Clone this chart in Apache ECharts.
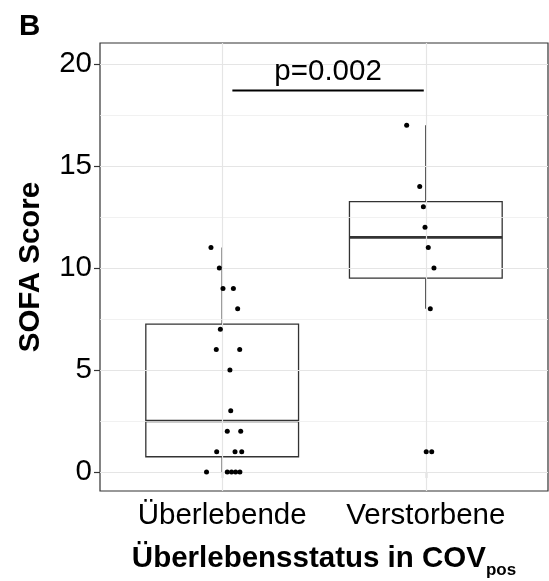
<!DOCTYPE html>
<html>
<head>
<meta charset="utf-8">
<script src="https://cdn.jsdelivr.net/npm/echarts@6/dist/echarts.min.js"></script>
<style>
  html, body { margin: 0; padding: 0; background: #fff; }
  #chart { width: 549px; height: 581px; }
</style>
</head>
<body>
<div id="chart"></div>
<script>
// Groups on the x axis
const categories = ['Überlebende', 'Verstorbene'];

// Individual SOFA scores per group
const survivorsScores = [11, 10, 9, 9, 8, 7, 6, 6, 5, 3, 2, 2, 1, 1, 1, 0, 0, 0, 0, 0];
const deceasedScores  = [17, 14, 13, 12, 11, 10, 8, 1, 1];

// Horizontal jitter of each point (in category units)
const survivorsJitter = [-0.055, -0.014, 0.004, 0.055, 0.076, -0.009, -0.029, 0.086, 0.038, 0.042,
                         0.025, 0.091, -0.027, 0.063, 0.096, -0.077, 0.025, 0.046, 0.066, 0.087];
const deceasedJitter  = [-0.094, -0.030, -0.012, -0.004, 0.012, 0.040, 0.022, 0.002, 0.029];

// Box statistics: [lower whisker, Q1, median, Q3, upper whisker]
const survivorsBox = [0, 0.75, 2.5, 7.25, 11];
const deceasedBox  = [8, 9.5, 11.5, 13.25, 17];

// Axis ticks
const yTicks = [0, 5, 10, 15, 20];
const yMinorTicks = [2.5, 7.5, 12.5, 17.5];
const xTicks = [1, 2];

// Significance bracket between the groups
const sigBarX = [1.05, 1.99];
const sigBarY = 18.7;
const sigLabel = 'p=0.002';

const FONT = '"Liberation Sans", Arial, Helvetica, sans-serif';
const FS = 29.5;
const BOX_WIDTH = 0.75;

const boxData = [
  [1].concat(survivorsBox),
  [2].concat(deceasedBox)
];
const pointData = [];
survivorsScores.forEach((v, i) => pointData.push([1 + survivorsJitter[i], v]));
deceasedScores.forEach((v, i) => pointData.push([2 + deceasedJitter[i], v]));

const chart = echarts.init(document.getElementById('chart'), null, { renderer: 'canvas' });

chart.setOption({
  animation: false,
  backgroundColor: '#ffffff',
  title: {
    text: 'B',
    left: 14,
    top: 7,
    textStyle: { fontFamily: FONT, fontSize: FS, fontWeight: 'bold', color: '#000' }
  },
  grid: {
    left: 100, top: 43, width: 448, height: 448,
    outerBoundsMode: 'none',
    containLabel: false,
    show: true, borderColor: '#333333', borderWidth: 1.2, backgroundColor: '#ffffff'
  },
  xAxis: {
    type: 'value',
    min: 0.4, max: 2.6,
    axisLine: { show: false },
    splitLine: { show: false },
    axisTick: { show: true, customValues: xTicks, length: 6, inside: false,
                lineStyle: { color: '#333333', width: 1.2 } },
    axisLabel: {
      customValues: xTicks,
      formatter: v => categories[Math.round(v) - 1],
      fontFamily: FONT, fontSize: FS, color: '#000', margin: 10
    },
    name: '{b|Überlebensstatus in COV}{s|pos}',
    nameLocation: 'middle',
    nameGap: 48,
    nameTextStyle: {
      rich: {
        b: { fontFamily: FONT, fontSize: FS, fontWeight: 'bold', color: '#000', lineHeight: 40, verticalAlign: 'middle' },
        s: { fontFamily: FONT, fontSize: 17, fontWeight: 'bold', color: '#000', lineHeight: 25, verticalAlign: 'bottom' }
      }
    }
  },
  yAxis: {
    type: 'value',
    min: -0.93, max: 21.03,
    axisLine: { show: false },
    splitLine: { show: false },
    axisTick: { show: true, customValues: yTicks, length: 6,
                lineStyle: { color: '#333333', width: 1.2 } },
    axisLabel: {
      customValues: yTicks,
      fontFamily: FONT, fontSize: FS, color: '#000', margin: 8
    },
    name: 'SOFA Score',
    nameLocation: 'middle',
    nameGap: 54,
    nameRotate: 90,
    nameTextStyle: { fontFamily: FONT, fontSize: FS, fontWeight: 'bold', color: '#000' }
  },
  series: [
    {
      // panel grid lines
      type: 'scatter',
      data: [],
      silent: true,
      z: 1,
      markLine: {
        silent: true,
        symbol: ['none', 'none'],
        label: { show: false },
        animation: false,
        data: yMinorTicks.map(v => ({ yAxis: v, lineStyle: { color: '#ededed', width: 0.8, type: 'solid' } }))
          .concat(yTicks.map(v => ({ yAxis: v, lineStyle: { color: '#e5e5e5', width: 1.2, type: 'solid' } })))
          .concat(xTicks.map(v => ({ xAxis: v, lineStyle: { color: '#e5e5e5', width: 1.2, type: 'solid' } })))
      }
    },
    {
      // boxes and whiskers
      type: 'custom',
      z: 3,
      data: boxData,
      renderItem: function (params, api) {
        const x = api.value(0);
        const lo = api.value(1), q1 = api.value(2), med = api.value(3), q3 = api.value(4), hi = api.value(5);
        const half = BOX_WIDTH / 2;
        const tl = api.coord([x - half, q3]);
        const br = api.coord([x + half, q1]);
        const pHi = api.coord([x, hi]);
        const pQ3 = api.coord([x, q3]);
        const pQ1 = api.coord([x, q1]);
        const pLo = api.coord([x, lo]);
        const mL = api.coord([x - half, med]);
        const mR = api.coord([x + half, med]);
        const stroke = { stroke: '#333333', lineWidth: 1.4 };
        return {
          type: 'group',
          children: [
            { type: 'line', shape: { x1: pHi[0], y1: pHi[1], x2: pQ3[0], y2: pQ3[1] }, style: stroke },
            { type: 'line', shape: { x1: pQ1[0], y1: pQ1[1], x2: pLo[0], y2: pLo[1] }, style: stroke },
            { type: 'rect', shape: { x: tl[0], y: tl[1], width: br[0] - tl[0], height: br[1] - tl[1] },
              style: { fill: '#ffffff', stroke: '#333333', lineWidth: 1.3 } },
            { type: 'line', shape: { x1: mL[0], y1: mL[1], x2: mR[0], y2: mR[1] },
              style: { stroke: '#333333', lineWidth: 2.6 } }
          ]
        };
      }
    },
    {
      // individual observations
      type: 'scatter',
      z: 5,
      data: pointData,
      symbol: 'circle',
      symbolSize: 5,
      itemStyle: { color: '#000000', opacity: 1 }
    },
    {
      // significance bracket
      type: 'custom',
      z: 6,
      data: [[sigBarX[0], sigBarX[1], sigBarY]],
      renderItem: function (params, api) {
        const a = api.coord([api.value(0), api.value(2)]);
        const b = api.coord([api.value(1), api.value(2)]);
        return {
          type: 'group',
          children: [
            { type: 'line', shape: { x1: a[0], y1: a[1], x2: b[0], y2: b[1] },
              style: { stroke: '#000000', lineWidth: 2 } },
            { type: 'text', x: (a[0] + b[0]) / 2, y: a[1] - 4,
              style: { text: sigLabel, fontFamily: FONT, fontSize: FS, fill: '#000',
                       align: 'center', verticalAlign: 'bottom' } }
          ]
        };
      }
    }
  ]
});
</script>
</body>
</html>
